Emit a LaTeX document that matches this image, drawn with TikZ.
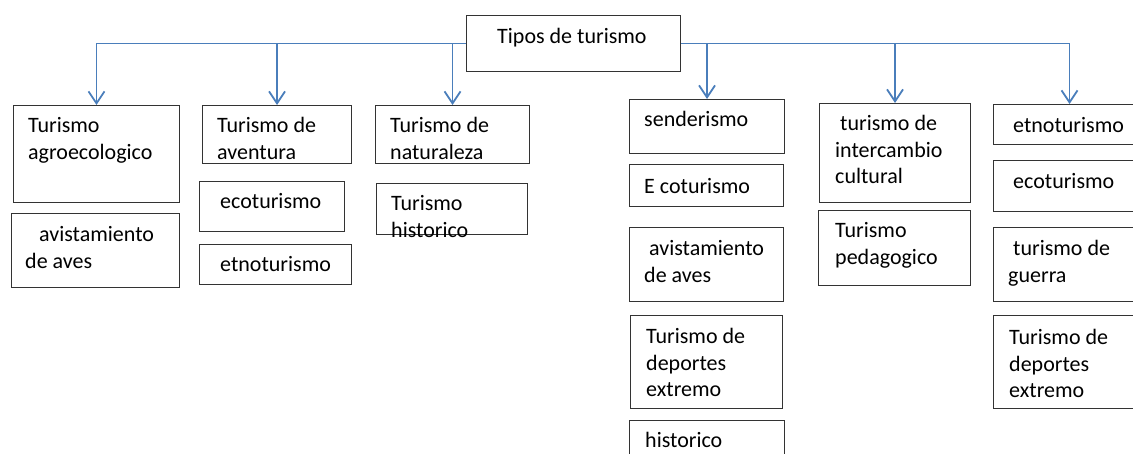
\documentclass[tikz,border=0pt]{standalone}
\usepackage{fontspec}
\setmainfont{Carlito}
\usetikzlibrary{positioning, arrows.meta}
\definecolor{link-blue}{RGB}{74,126,187}
\tikzset{
  box/.style={draw=black!80, line width=1pt, anchor=north west, inner sep=0pt},
  txt/.style={inner sep=0pt, align=left, font=\fontsize{22pt}{26.7pt}\selectfont},
  link/.style={draw=link-blue, line width=1.8pt, -{Straight Barb[length=12pt,width=16pt]}}
}

\begin{document}
\begin{tikzpicture}[x=1pt, y=-1pt]
        \useasboundingbox (0,0) rectangle (1133,454);
        \clip (0,0) rectangle (1133,454);
        % Root box
        \node[box, minimum width=214pt, minimum height=56pt] (root) at (466,15) {};
        \node[txt, below right=13pt and 31pt of root.north west] (root-txt) {Tipos de turismo};
        % Column 1
        \node[box, minimum width=166pt, minimum height=97pt] (agro) at (13,105) {};
        \node[txt, below right=12pt and 15pt of agro.north west] (agro-txt) {Turismo\\agroecologico};
        \node[box, minimum width=168pt, minimum height=74pt] (aves1) at (11,213) {};
        \node[txt, below right=13pt and 14pt of aves1.north west] (aves1-txt) {\hspace{14pt}avistamiento\\de aves};
        % Column 2
        \node[box, minimum width=149pt, minimum height=58pt] (avent) at (202,105) {};
        \node[txt, below right=12pt and 15pt of avent.north west] (avent-txt) {Turismo de\\aventura};
        \node[box, minimum width=145pt, minimum height=50pt] (eco1) at (199,181) {};
        \node[txt, below right=12pt and 21pt of eco1.north west] (eco1-txt) {ecoturismo};
        \node[box, minimum width=152pt, minimum height=40pt] (etno1) at (199,244) {};
        \node[txt, below right=12pt and 21pt of etno1.north west] (etno1-txt) {etnoturismo};
        % Column 3
        \node[box, minimum width=154pt, minimum height=58pt] (natur) at (375,105) {};
        \node[txt, below right=12pt and 15pt of natur.north west] (natur-txt) {Turismo de\\naturaleza};
        \node[box, minimum width=151pt, minimum height=51pt] (hist1) at (376,183) {};
        \node[txt, below right=12pt and 15pt of hist1.north west] (hist1-txt) {Turismo\\historico};
        % Column 4
        \node[box, minimum width=155pt, minimum height=54pt] (sender) at (629,99) {};
        \node[txt, below right=12pt and 15pt of sender.north west] (sender-txt) {senderismo};
        \node[box, minimum width=154pt, minimum height=42pt] (ecot) at (629,164) {};
        \node[txt, below right=14pt and 15pt of ecot.north west] (ecot-txt) {E coturismo};
        \node[box, minimum width=154pt, minimum height=74pt] (aves2) at (629,227) {};
        \node[txt, below right=13pt and 15pt of aves2.north west] (aves2-txt) {\ avistamiento\\de aves};
        \node[box, minimum width=152pt, minimum height=93pt] (dep1) at (630,315) {};
        \node[txt, below right=13pt and 16pt of dep1.north west] (dep1-txt) {Turismo de\\deportes\\extremo};
        \node[box, minimum width=155pt, minimum height=45pt] (hist2) at (629,420) {};
        \node[txt, below right=12pt and 16pt of hist2.north west] (hist2-txt) {historico};
        % Column 5
        \node[box, minimum width=151pt, minimum height=99pt] (inter) at (819,103) {};
        \node[txt, below right=12pt and 16pt of inter.north west] (inter-txt) {\ turismo de\\intercambio\\cultural};
        \node[box, minimum width=152pt, minimum height=75pt] (pedag) at (818,210) {};
        \node[txt, below right=12pt and 17pt of pedag.north west] (pedag-txt) {Turismo\\pedagogico};
        % Column 6
        \node[box, minimum width=152pt, minimum height=40pt] (etno2) at (993,104) {};
        \node[txt, below right=13pt and 20pt of etno2.north west] (etno2-txt) {etnoturismo};
        \node[box, minimum width=152pt, minimum height=51pt] (eco2) at (993,160) {};
        \node[txt, below right=13pt and 20pt of eco2.north west] (eco2-txt) {ecoturismo};
        \node[box, minimum width=152pt, minimum height=74pt] (guerra) at (993,227) {};
        \node[txt, below right=13pt and 15pt of guerra.north west] (guerra-txt) {\ turismo de\\guerra};
        \node[box, minimum width=152pt, minimum height=93pt] (dep2) at (993,315) {};
        \node[txt, below right=14pt and 16pt of dep2.north west] (dep2-txt) {Turismo de\\deportes\\extremo};
        % Root to columns
        \draw[link] (root.west) -| (agro.north);
        \draw[link] (root.west) -| (avent.north);
        \draw[link] (root.west) -| (natur.north);
        \draw[link] (root.east) -| (sender.north);
        \draw[link] (root.east) -| (inter.north);
        \draw[link] (root.east) -| (etno2.north);
    \end{tikzpicture}
\end{document}
